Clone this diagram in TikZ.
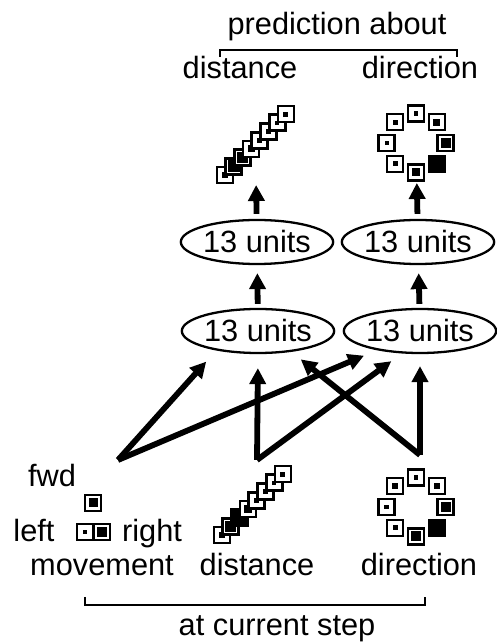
\documentclass[tikz,border=0pt]{standalone}
\usepackage{fontspec}
\setmainfont{Liberation Sans}
\usepackage{tikz}
\usetikzlibrary{arrows.meta,shapes.geometric,calc}

\begin{document}
\begin{tikzpicture}[font=\fontsize{17.5}{21}\selectfont,
		text_style/.style={anchor=base,inner sep=0pt},
		layer_style/.style={ellipse,draw=black,line width=1.3pt,minimum width=2.7cm,minimum height=0.88cm,inner sep=0pt},
		unit_style/.style={rectangle,draw=black,line width=1.5pt,fill=white,minimum size=0.32cm,inner sep=0pt},
		arrow_style/.style={draw=black,line width=3.3pt,-{Triangle[length=0.32cm,width=0.32cm]}},
		bracket_style/.style={draw=black,line width=1.6pt}]
		\useasboundingbox (0,0) rectangle (9.94,12.84);
		
		% labels at the top
		\node[text_style] (pred) at (6.74,12.14) {prediction about};
		\node[text_style] (pred_dist) at (4.80,11.26) {distance};
		\node[text_style] (pred_dir) at (8.40,11.26) {direction};
		\draw[bracket_style] (4.40,11.70) -- (4.40,11.84) -- (9.14,11.84) -- (9.14,11.70);
		
		% predicted distance and direction
		\coordinate (dist_out) at (5.11,9.96);
		\coordinate (dir_out) at (8.32,9.98);
		\foreach \a [count=\i from 0] in {0.12,0.24,0.22,0.14,0.10,0.09,0.08,0.10} {
			\node[unit_style] (pd\i) at (4.50+\i*0.174,9.34+\i*0.174) {};
			\fill (pd\i.center) +(-\a/2,-\a/2) rectangle +(\a/2,\a/2);
		}
		\foreach \ang/\a [count=\i] in {90/0.09,45/0.14,0/0.20,-45/0.30,-90/0.16,-135/0.10,180/0.08,135/0.10} {
			\node[unit_style] (pr\i) at ($(dir_out)+(\ang:0.59)$) {};
			\fill (pr\i.center) +(-\a/2,-\a/2) rectangle +(\a/2,\a/2);
		}
		
		% hidden layers
		\node[layer_style] (up_dist) at (5.14,8.00) {13 units};
		\node[layer_style] (up_dir) at (8.36,8.00) {13 units};
		\node[layer_style] (low_dist) at (5.16,6.22) {13 units};
		\node[layer_style] (low_dir) at (8.40,6.22) {13 units};
		
		\draw[arrow_style, shorten >=0.82cm, shorten <=0.1cm] (up_dist) -- (dist_out);
		\draw[arrow_style, shorten >=0.8cm, shorten <=0.1cm] (up_dir) -- (dir_out);
		\draw[arrow_style, shorten >=0.16cm, shorten <=0.08cm] (low_dist) -- (up_dist);
		\draw[arrow_style, shorten >=0.16cm, shorten <=0.08cm] (low_dir) -- (up_dir);
		
		% inputs at the current step
		\coordinate (mv_in) at (2.36,3.64);
		\coordinate (dist_in) at (5.14,3.64);
		\coordinate (dir_in) at (8.40,3.74);
		
		\draw[arrow_style, shorten >=0.30cm] (mv_in) -- (low_dist.205);
		\draw[arrow_style, shorten >=0.28cm] (mv_in) -- (low_dir.204);
		\draw[arrow_style, shorten >=0.28cm] (dist_in) -- (low_dist.south);
		\draw[arrow_style, shorten >=0.26cm] (dist_in) -- (low_dir.231);
		\draw[arrow_style, shorten >=0.24cm] (dir_in) -- (low_dir.south);
		\draw[arrow_style, shorten >=0.24cm] (dir_in) -- (low_dist.328);
		
		% movement
		\node[text_style] (fwd) at (1.04,3.10) {fwd};
		\node[text_style] (left) at (0.68,2.00) {left};
		\node[text_style] (right) at (3.04,2.00) {right};
		\node[unit_style] (m_fwd) at (1.86,2.78) {};
		\fill (m_fwd.center) +(-0.09,-0.09) rectangle +(0.09,0.09);
		\node[unit_style] (m_left) at (1.70,2.20) {};
		\fill (m_left.center) +(-0.045,-0.045) rectangle +(0.045,0.045);
		\node[unit_style] (m_right) at (2.04,2.20) {};
		\fill (m_right.center) +(-0.10,-0.10) rectangle +(0.10,0.10);
		
		% distance and direction
		\coordinate (dir_now) at (8.32,2.70);
		\foreach \a [count=\i from 0] in {0.12,0.22,0.26,0.16,0.10,0.09,0.08,0.10} {
			\node[unit_style] (cd\i) at (4.44+\i*0.174,2.14+\i*0.174) {};
			\fill (cd\i.center) +(-\a/2,-\a/2) rectangle +(\a/2,\a/2);
		}
		\foreach \ang/\a [count=\i] in {90/0.09,45/0.12,0/0.20,-45/0.32,-90/0.20,-135/0.10,180/0.09,135/0.12} {
			\node[unit_style] (cr\i) at ($(dir_now)+(\ang:0.59)$) {};
			\fill (cr\i.center) +(-\a/2,-\a/2) rectangle +(\a/2,\a/2);
		}
		
		% labels at the bottom
		\node[text_style] (now_mv) at (2.04,1.32) {movement};
		\node[text_style] (now_dist) at (5.14,1.32) {distance};
		\node[text_style] (now_dir) at (8.38,1.32) {direction};
		\draw[bracket_style] (1.70,0.90) -- (1.70,0.74) -- (8.50,0.74) -- (8.50,0.90);
		\node[text_style] (now) at (5.54,0.13) {at current step};
		
		\end{tikzpicture}
\end{document}
